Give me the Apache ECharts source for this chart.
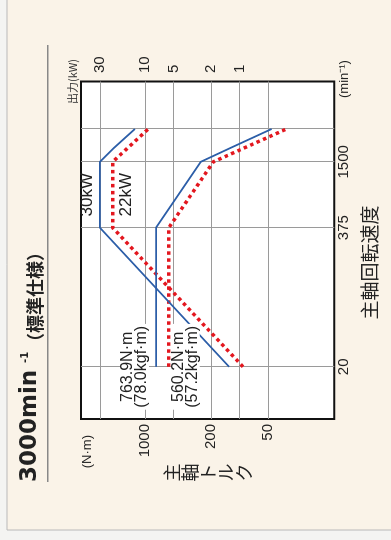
<!DOCTYPE html>
<html>
<head>
<meta charset="utf-8">
<script src="https://cdn.jsdelivr.net/npm/echarts@6/dist/echarts.min.js"></script>
<style>
  html, body { margin: 0; padding: 0; background: #f4f4f2; overflow: hidden; }
  /* 図全体が左へ90°回転しているので、正立で描いてから回す */
  #chart { position: absolute; left: 0; top: 540px; width: 540px; height: 391px;
           transform-origin: 0 0; transform: rotate(-90deg); }
</style>
</head>
<body>
<div id="chart"></div>
<script>
// 主軸回転速度 (min-1) の目盛
const speedTicks = [20, 375, 1500, 3000];
// トルク (N·m) 目盛と出力 (kW) 目盛
const torqueTicks = [1000, 200, 50];
const torqueGrid = [3000, 1000, 500, 200, 100, 50];
const powerTicks = [30, 10, 5, 2, 1];

// 30kW 仕様（青・実線）
const speed30 = [20, 375, 1500, 2000, 3000];
const torque30 = [763.9, 763.9, 258, 127, 46];
const power30 = [1.29, 30, 30, 21.5, 12.8];
// 22kW 仕様（赤・点線）
const speed22 = [20, 375, 1500, 3000];
const torque22 = [560.2, 560.2, 190, 32];
const power22 = [0.92, 22, 22, 9.24];
// kgf·m 換算
const torqueKgf = [78.0, 57.2];

const BLUE = '#2c5ea8';
const RED = '#e3171f';
const GRID = '#9a9a9a';
const fontLatin = '"Liberation Sans", Arial, sans-serif';
const fontJa = '"Noto Sans CJK JP", sans-serif';

function pairs(xs, ys) {
  return xs.map((x, i) => [x, ys[i]]);
}
// 桁区切りなしで表示
function plain(v) {
  return String(Math.round(v));
}

const chart = echarts.init(document.getElementById('chart'), null, { renderer: 'canvas' });

const noteLabel = {
  show: true,
  color: '#222',
  fontFamily: fontLatin,
  fontSize: 16,
  lineHeight: 13.5,
  backgroundColor: '#fff',
  padding: [1, 2]
};

const option = {
  animation: false,
  textStyle: { fontFamily: fontLatin },
  grid: {
    left: 121, right: 81.5, top: 81, bottom: 56.7,
    show: true, backgroundColor: '#fff', borderColor: '#111', borderWidth: 2,
    outerBoundsMode: 'none'
  },
  xAxis: {
    type: 'log', logBase: 10, min: 6.66, max: 8155,
    axisLine: { show: false },
    axisTick: { show: false, customValues: speedTicks },
    axisLabel: { customValues: speedTicks, formatter: plain, color: '#222', fontSize: 15, margin: 2 },
    splitLine: { show: true, lineStyle: { color: GRID, width: 1 } }
  },
  yAxis: [
    {
      type: 'log', logBase: 10, position: 'left', min: 10, max: 4750,
      axisLine: { show: false },
      axisTick: { show: false, customValues: torqueGrid },
      axisLabel: { customValues: torqueTicks, formatter: plain, color: '#222', fontSize: 15, margin: 5 },
      splitLine: { show: true, lineStyle: { color: GRID, width: 1 } }
    },
    {
      type: 'log', logBase: 10, position: 'right', min: 0.1, max: 47.5,
      axisLine: { show: false },
      axisTick: { show: false, customValues: powerTicks },
      axisLabel: { customValues: powerTicks, formatter: plain, color: '#222', fontSize: 15, margin: 8.5 },
      splitLine: { show: false }
    }
  ],
  series: [
    {
      name: '30kW トルク', type: 'line', yAxisIndex: 0, showSymbol: false, z: 4,
      data: pairs(speed30, torque30),
      lineStyle: { color: BLUE, width: 1.8 },
      markPoint: {
        symbolSize: 0, silent: true,
        data: [{
          coord: [speed30[0], torque30[0]],
          label: Object.assign({}, noteLabel, {
            position: 'top', distance: 7,
            formatter: torque30[0].toFixed(1) + 'N·m\n(' + torqueKgf[0].toFixed(1) + 'kgf·m)'
          })
        }]
      }
    },
    {
      name: '30kW 出力', type: 'line', yAxisIndex: 1, showSymbol: false, z: 4,
      data: pairs(speed30, power30),
      lineStyle: { color: BLUE, width: 1.8 },
      markPoint: {
        symbolSize: 0, silent: true,
        data: [{
          coord: [750, 30],
          label: { show: true, position: 'top', distance: 4, formatter: '30kW',
                   color: '#222', fontSize: 17, fontFamily: fontLatin }
        }]
      }
    },
    {
      name: '22kW トルク', type: 'line', yAxisIndex: 0, showSymbol: false, z: 3,
      data: pairs(speed22, torque22),
      lineStyle: { color: RED, width: 3.5, type: [3.5, 3.5], cap: 'butt' },
      markPoint: {
        symbolSize: 0, silent: true,
        data: [{
          coord: [speed22[0], torque22[0]],
          label: Object.assign({}, noteLabel, {
            position: 'bottom', distance: 2,
            formatter: torque22[0].toFixed(1) + 'N·m\n(' + torqueKgf[1].toFixed(1) + 'kgf·m)'
          })
        }]
      }
    },
    {
      name: '22kW 出力', type: 'line', yAxisIndex: 1, showSymbol: false, z: 3,
      data: pairs(speed22, power22),
      lineStyle: { color: RED, width: 3.5, type: [3.5, 3.5], cap: 'butt' },
      markPoint: {
        symbolSize: 0, silent: true,
        data: [{
          coord: [750, 22],
          label: { show: true, position: 'bottom', distance: 5, formatter: '22kW',
                   color: '#222', fontSize: 17, fontFamily: fontLatin }
        }]
      }
    }
  ],
  graphic: {
    elements: [
      { type: 'rect', z: -10, silent: true,
        shape: { x: 10, y: 7, width: 560, height: 420 },
        style: { fill: '#faf3e8', stroke: '#b9b9b9', lineWidth: 1 } },
      { type: 'text', x: 58, y: 30, silent: true,
        style: { text: '3000min', fill: '#222', fontFamily: '"DejaVu Sans", sans-serif',
                 fontWeight: 'bold', fontSize: 23, align: 'left', verticalAlign: 'middle' } },
      { type: 'text', x: 177, y: 25, silent: true,
        style: { text: '-1', fill: '#222', fontFamily: '"DejaVu Sans", sans-serif',
                 fontWeight: 'bold', fontSize: 10, align: 'left', verticalAlign: 'middle' } },
      { type: 'text', x: 189, y: 35, silent: true,
        style: { text: '（標準仕様）', fill: '#222', fontFamily: fontJa,
                 fontWeight: 'bold', fontSize: 18, align: 'left', verticalAlign: 'middle' } },
      { type: 'line', silent: true,
        shape: { x1: 58, y1: 47.7, x2: 495, y2: 47.7 },
        style: { stroke: '#888', lineWidth: 1.5 } },
      { type: 'text', x: 458.5, y: 72.5, silent: true,
        style: { text: '出力(kW)', fill: '#333', fontFamily: fontJa, fontSize: 11,
                 align: 'center', verticalAlign: 'middle' } },
      { type: 'text', x: 105, y: 87, silent: true,
        style: { text: '(N·m)', fill: '#222', fontFamily: fontLatin, fontSize: 13,
                 align: 'right', verticalAlign: 'middle' } },
      { type: 'text', x: 67.5, y: 208, silent: true,
        style: { text: '主\n軸\nト\nル\nク', fill: '#222', fontFamily: fontJa, fontSize: 18,
                 lineHeight: 18, align: 'center', verticalAlign: 'middle' } },
      { type: 'text', x: 277.5, y: 370, silent: true,
        style: { text: '主軸回転速度', fill: '#222', fontFamily: fontJa, fontSize: 19,
                 align: 'center', verticalAlign: 'middle' } },
      { type: 'text', x: 442, y: 344, silent: true,
        style: { text: '(min⁻¹)', fill: '#222', fontFamily: fontLatin, fontSize: 13,
                 align: 'left', verticalAlign: 'middle' } }
    ]
  }
};

chart.setOption(option);
</script>
</body>
</html>
